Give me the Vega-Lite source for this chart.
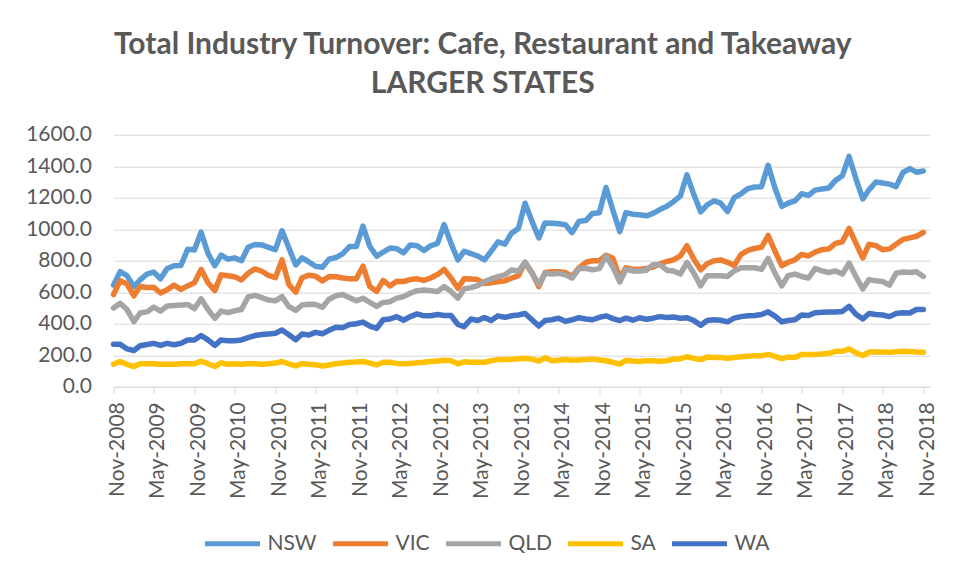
{
"$schema": "https://vega.github.io/schema/vega-lite/v6.json",
"autosize": {"type": "none"},
"width": 816.5,
"height": 252,
"padding": {"left": 113.5, "top": 134.7, "right": 29, "bottom": 188.3},
"background": "white",
"config": {"view": {"stroke": null}, "font": "Lato"},
"title": {"text": ["Total Industry Turnover: Cafe, Restaurant and Takeaway", "LARGER STATES"], "font": "Lato", "fontSize": 30, "fontWeight": "bold", "color": "#595959", "lineHeight": 39, "anchor": "middle", "offset": 25, "dx": -39},
"data": {"values": [
{"month":"2008-11","state":"NSW","value":645},{"month":"2008-12","state":"NSW","value":730},
{"month":"2009-01","state":"NSW","value":705},{"month":"2009-02","state":"NSW","value":635},{"month":"2009-03","state":"NSW","value":678},{"month":"2009-04","state":"NSW","value":715},{"month":"2009-05","state":"NSW","value":728},{"month":"2009-06","state":"NSW","value":685},{"month":"2009-07","state":"NSW","value":750},{"month":"2009-08","state":"NSW","value":768},{"month":"2009-09","state":"NSW","value":770},{"month":"2009-10","state":"NSW","value":872},{"month":"2009-11","state":"NSW","value":868},{"month":"2009-12","state":"NSW","value":982},
{"month":"2010-01","state":"NSW","value":847},{"month":"2010-02","state":"NSW","value":768},{"month":"2010-03","state":"NSW","value":836},{"month":"2010-04","state":"NSW","value":810},{"month":"2010-05","state":"NSW","value":818},{"month":"2010-06","state":"NSW","value":800},{"month":"2010-07","state":"NSW","value":885},{"month":"2010-08","state":"NSW","value":903},{"month":"2010-09","state":"NSW","value":900},{"month":"2010-10","state":"NSW","value":885},{"month":"2010-11","state":"NSW","value":870},{"month":"2010-12","state":"NSW","value":990},
{"month":"2011-01","state":"NSW","value":880},{"month":"2011-02","state":"NSW","value":773},{"month":"2011-03","state":"NSW","value":818},{"month":"2011-04","state":"NSW","value":792},{"month":"2011-05","state":"NSW","value":765},{"month":"2011-06","state":"NSW","value":758},{"month":"2011-07","state":"NSW","value":810},{"month":"2011-08","state":"NSW","value":820},{"month":"2011-09","state":"NSW","value":845},{"month":"2011-10","state":"NSW","value":890},{"month":"2011-11","state":"NSW","value":890},{"month":"2011-12","state":"NSW","value":1020},
{"month":"2012-01","state":"NSW","value":890},{"month":"2012-02","state":"NSW","value":828},{"month":"2012-03","state":"NSW","value":855},{"month":"2012-04","state":"NSW","value":880},{"month":"2012-05","state":"NSW","value":876},{"month":"2012-06","state":"NSW","value":850},{"month":"2012-07","state":"NSW","value":900},{"month":"2012-08","state":"NSW","value":895},{"month":"2012-09","state":"NSW","value":865},{"month":"2012-10","state":"NSW","value":895},{"month":"2012-11","state":"NSW","value":910},{"month":"2012-12","state":"NSW","value":1030},
{"month":"2013-01","state":"NSW","value":910},{"month":"2013-02","state":"NSW","value":805},{"month":"2013-03","state":"NSW","value":860},{"month":"2013-04","state":"NSW","value":845},{"month":"2013-05","state":"NSW","value":830},{"month":"2013-06","state":"NSW","value":805},{"month":"2013-07","state":"NSW","value":860},{"month":"2013-08","state":"NSW","value":920},{"month":"2013-09","state":"NSW","value":905},{"month":"2013-10","state":"NSW","value":975},{"month":"2013-11","state":"NSW","value":1005},{"month":"2013-12","state":"NSW","value":1165},
{"month":"2014-01","state":"NSW","value":1050},{"month":"2014-02","state":"NSW","value":945},{"month":"2014-03","state":"NSW","value":1040},{"month":"2014-04","state":"NSW","value":1038},{"month":"2014-05","state":"NSW","value":1035},{"month":"2014-06","state":"NSW","value":1028},{"month":"2014-07","state":"NSW","value":978},{"month":"2014-08","state":"NSW","value":1050},{"month":"2014-09","state":"NSW","value":1055},{"month":"2014-10","state":"NSW","value":1100},{"month":"2014-11","state":"NSW","value":1105},{"month":"2014-12","state":"NSW","value":1265},
{"month":"2015-01","state":"NSW","value":1120},{"month":"2015-02","state":"NSW","value":985},{"month":"2015-03","state":"NSW","value":1105},{"month":"2015-04","state":"NSW","value":1095},{"month":"2015-05","state":"NSW","value":1092},{"month":"2015-06","state":"NSW","value":1085},{"month":"2015-07","state":"NSW","value":1100},{"month":"2015-08","state":"NSW","value":1125},{"month":"2015-09","state":"NSW","value":1145},{"month":"2015-10","state":"NSW","value":1175},{"month":"2015-11","state":"NSW","value":1210},{"month":"2015-12","state":"NSW","value":1345},
{"month":"2016-01","state":"NSW","value":1220},{"month":"2016-02","state":"NSW","value":1110},{"month":"2016-03","state":"NSW","value":1155},{"month":"2016-04","state":"NSW","value":1180},{"month":"2016-05","state":"NSW","value":1165},{"month":"2016-06","state":"NSW","value":1112},{"month":"2016-07","state":"NSW","value":1200},{"month":"2016-08","state":"NSW","value":1225},{"month":"2016-09","state":"NSW","value":1258},{"month":"2016-10","state":"NSW","value":1268},{"month":"2016-11","state":"NSW","value":1270},{"month":"2016-12","state":"NSW","value":1405},
{"month":"2017-01","state":"NSW","value":1260},{"month":"2017-02","state":"NSW","value":1145},{"month":"2017-03","state":"NSW","value":1165},{"month":"2017-04","state":"NSW","value":1180},{"month":"2017-05","state":"NSW","value":1225},{"month":"2017-06","state":"NSW","value":1215},{"month":"2017-07","state":"NSW","value":1248},{"month":"2017-08","state":"NSW","value":1255},{"month":"2017-09","state":"NSW","value":1262},{"month":"2017-10","state":"NSW","value":1310},{"month":"2017-11","state":"NSW","value":1340},{"month":"2017-12","state":"NSW","value":1462},
{"month":"2018-01","state":"NSW","value":1320},{"month":"2018-02","state":"NSW","value":1192},{"month":"2018-03","state":"NSW","value":1250},{"month":"2018-04","state":"NSW","value":1300},{"month":"2018-05","state":"NSW","value":1293},{"month":"2018-06","state":"NSW","value":1286},{"month":"2018-07","state":"NSW","value":1270},{"month":"2018-08","state":"NSW","value":1360},{"month":"2018-09","state":"NSW","value":1385},{"month":"2018-10","state":"NSW","value":1362},{"month":"2018-11","state":"NSW","value":1370},
{"month":"2008-11","state":"VIC","value":585},{"month":"2008-12","state":"VIC","value":672},
{"month":"2009-01","state":"VIC","value":652},{"month":"2009-02","state":"VIC","value":577},{"month":"2009-03","state":"VIC","value":636},{"month":"2009-04","state":"VIC","value":630},{"month":"2009-05","state":"VIC","value":632},{"month":"2009-06","state":"VIC","value":595},{"month":"2009-07","state":"VIC","value":615},{"month":"2009-08","state":"VIC","value":645},{"month":"2009-09","state":"VIC","value":618},{"month":"2009-10","state":"VIC","value":640},{"month":"2009-11","state":"VIC","value":660},{"month":"2009-12","state":"VIC","value":745},
{"month":"2010-01","state":"VIC","value":660},{"month":"2010-02","state":"VIC","value":610},{"month":"2010-03","state":"VIC","value":710},{"month":"2010-04","state":"VIC","value":704},{"month":"2010-05","state":"VIC","value":698},{"month":"2010-06","state":"VIC","value":678},{"month":"2010-07","state":"VIC","value":720},{"month":"2010-08","state":"VIC","value":748},{"month":"2010-09","state":"VIC","value":733},{"month":"2010-10","state":"VIC","value":707},{"month":"2010-11","state":"VIC","value":692},{"month":"2010-12","state":"VIC","value":805},
{"month":"2011-01","state":"VIC","value":648},{"month":"2011-02","state":"VIC","value":600},{"month":"2011-03","state":"VIC","value":692},{"month":"2011-04","state":"VIC","value":708},{"month":"2011-05","state":"VIC","value":702},{"month":"2011-06","state":"VIC","value":672},{"month":"2011-07","state":"VIC","value":699},{"month":"2011-08","state":"VIC","value":698},{"month":"2011-09","state":"VIC","value":690},{"month":"2011-10","state":"VIC","value":686},{"month":"2011-11","state":"VIC","value":685},{"month":"2011-12","state":"VIC","value":765},
{"month":"2012-01","state":"VIC","value":636},{"month":"2012-02","state":"VIC","value":605},{"month":"2012-03","state":"VIC","value":675},{"month":"2012-04","state":"VIC","value":640},{"month":"2012-05","state":"VIC","value":670},{"month":"2012-06","state":"VIC","value":668},{"month":"2012-07","state":"VIC","value":680},{"month":"2012-08","state":"VIC","value":685},{"month":"2012-09","state":"VIC","value":675},{"month":"2012-10","state":"VIC","value":690},{"month":"2012-11","state":"VIC","value":712},{"month":"2012-12","state":"VIC","value":745},
{"month":"2013-01","state":"VIC","value":690},{"month":"2013-02","state":"VIC","value":625},{"month":"2013-03","state":"VIC","value":685},{"month":"2013-04","state":"VIC","value":684},{"month":"2013-05","state":"VIC","value":680},{"month":"2013-06","state":"VIC","value":655},{"month":"2013-07","state":"VIC","value":660},{"month":"2013-08","state":"VIC","value":666},{"month":"2013-09","state":"VIC","value":672},{"month":"2013-10","state":"VIC","value":690},{"month":"2013-11","state":"VIC","value":705},{"month":"2013-12","state":"VIC","value":790},
{"month":"2014-01","state":"VIC","value":725},{"month":"2014-02","state":"VIC","value":635},{"month":"2014-03","state":"VIC","value":725},{"month":"2014-04","state":"VIC","value":730},{"month":"2014-05","state":"VIC","value":730},{"month":"2014-06","state":"VIC","value":725},{"month":"2014-07","state":"VIC","value":700},{"month":"2014-08","state":"VIC","value":755},{"month":"2014-09","state":"VIC","value":790},{"month":"2014-10","state":"VIC","value":800},{"month":"2014-11","state":"VIC","value":800},{"month":"2014-12","state":"VIC","value":835},
{"month":"2015-01","state":"VIC","value":815},{"month":"2015-02","state":"VIC","value":690},{"month":"2015-03","state":"VIC","value":755},{"month":"2015-04","state":"VIC","value":745},{"month":"2015-05","state":"VIC","value":745},{"month":"2015-06","state":"VIC","value":750},{"month":"2015-07","state":"VIC","value":760},{"month":"2015-08","state":"VIC","value":780},{"month":"2015-09","state":"VIC","value":795},{"month":"2015-10","state":"VIC","value":805},{"month":"2015-11","state":"VIC","value":830},{"month":"2015-12","state":"VIC","value":895},
{"month":"2016-01","state":"VIC","value":810},{"month":"2016-02","state":"VIC","value":742},{"month":"2016-03","state":"VIC","value":780},{"month":"2016-04","state":"VIC","value":800},{"month":"2016-05","state":"VIC","value":805},{"month":"2016-06","state":"VIC","value":790},{"month":"2016-07","state":"VIC","value":770},{"month":"2016-08","state":"VIC","value":840},{"month":"2016-09","state":"VIC","value":865},{"month":"2016-10","state":"VIC","value":878},{"month":"2016-11","state":"VIC","value":885},{"month":"2016-12","state":"VIC","value":960},
{"month":"2017-01","state":"VIC","value":860},{"month":"2017-02","state":"VIC","value":768},{"month":"2017-03","state":"VIC","value":790},{"month":"2017-04","state":"VIC","value":805},{"month":"2017-05","state":"VIC","value":840},{"month":"2017-06","state":"VIC","value":830},{"month":"2017-07","state":"VIC","value":855},{"month":"2017-08","state":"VIC","value":870},{"month":"2017-09","state":"VIC","value":875},{"month":"2017-10","state":"VIC","value":910},{"month":"2017-11","state":"VIC","value":920},{"month":"2017-12","state":"VIC","value":1005},
{"month":"2018-01","state":"VIC","value":910},{"month":"2018-02","state":"VIC","value":818},{"month":"2018-03","state":"VIC","value":905},{"month":"2018-04","state":"VIC","value":895},{"month":"2018-05","state":"VIC","value":870},{"month":"2018-06","state":"VIC","value":875},{"month":"2018-07","state":"VIC","value":905},{"month":"2018-08","state":"VIC","value":935},{"month":"2018-09","state":"VIC","value":945},{"month":"2018-10","state":"VIC","value":955},{"month":"2018-11","state":"VIC","value":980},
{"month":"2008-11","state":"QLD","value":500},{"month":"2008-12","state":"QLD","value":530},
{"month":"2009-01","state":"QLD","value":490},{"month":"2009-02","state":"QLD","value":413},{"month":"2009-03","state":"QLD","value":468},{"month":"2009-04","state":"QLD","value":475},{"month":"2009-05","state":"QLD","value":505},{"month":"2009-06","state":"QLD","value":480},{"month":"2009-07","state":"QLD","value":512},{"month":"2009-08","state":"QLD","value":515},{"month":"2009-09","state":"QLD","value":518},{"month":"2009-10","state":"QLD","value":522},{"month":"2009-11","state":"QLD","value":496},{"month":"2009-12","state":"QLD","value":558},
{"month":"2010-01","state":"QLD","value":490},{"month":"2010-02","state":"QLD","value":434},{"month":"2010-03","state":"QLD","value":480},{"month":"2010-04","state":"QLD","value":470},{"month":"2010-05","state":"QLD","value":482},{"month":"2010-06","state":"QLD","value":490},{"month":"2010-07","state":"QLD","value":570},{"month":"2010-08","state":"QLD","value":580},{"month":"2010-09","state":"QLD","value":565},{"month":"2010-10","state":"QLD","value":550},{"month":"2010-11","state":"QLD","value":545},{"month":"2010-12","state":"QLD","value":572},
{"month":"2011-01","state":"QLD","value":508},{"month":"2011-02","state":"QLD","value":485},{"month":"2011-03","state":"QLD","value":519},{"month":"2011-04","state":"QLD","value":523},{"month":"2011-05","state":"QLD","value":522},{"month":"2011-06","state":"QLD","value":505},{"month":"2011-07","state":"QLD","value":555},{"month":"2011-08","state":"QLD","value":578},{"month":"2011-09","state":"QLD","value":585},{"month":"2011-10","state":"QLD","value":565},{"month":"2011-11","state":"QLD","value":545},{"month":"2011-12","state":"QLD","value":562},
{"month":"2012-01","state":"QLD","value":536},{"month":"2012-02","state":"QLD","value":510},{"month":"2012-03","state":"QLD","value":535},{"month":"2012-04","state":"QLD","value":540},{"month":"2012-05","state":"QLD","value":562},{"month":"2012-06","state":"QLD","value":572},{"month":"2012-07","state":"QLD","value":593},{"month":"2012-08","state":"QLD","value":610},{"month":"2012-09","state":"QLD","value":614},{"month":"2012-10","state":"QLD","value":610},{"month":"2012-11","state":"QLD","value":604},{"month":"2012-12","state":"QLD","value":636},
{"month":"2013-01","state":"QLD","value":604},{"month":"2013-02","state":"QLD","value":562},{"month":"2013-03","state":"QLD","value":621},{"month":"2013-04","state":"QLD","value":629},{"month":"2013-05","state":"QLD","value":642},{"month":"2013-06","state":"QLD","value":667},{"month":"2013-07","state":"QLD","value":684},{"month":"2013-08","state":"QLD","value":699},{"month":"2013-09","state":"QLD","value":710},{"month":"2013-10","state":"QLD","value":742},{"month":"2013-11","state":"QLD","value":733},{"month":"2013-12","state":"QLD","value":790},
{"month":"2014-01","state":"QLD","value":720},{"month":"2014-02","state":"QLD","value":650},{"month":"2014-03","state":"QLD","value":720},{"month":"2014-04","state":"QLD","value":715},{"month":"2014-05","state":"QLD","value":720},{"month":"2014-06","state":"QLD","value":710},{"month":"2014-07","state":"QLD","value":690},{"month":"2014-08","state":"QLD","value":750},{"month":"2014-09","state":"QLD","value":752},{"month":"2014-10","state":"QLD","value":742},{"month":"2014-11","state":"QLD","value":750},{"month":"2014-12","state":"QLD","value":830},
{"month":"2015-01","state":"QLD","value":760},{"month":"2015-02","state":"QLD","value":665},{"month":"2015-03","state":"QLD","value":745},{"month":"2015-04","state":"QLD","value":735},{"month":"2015-05","state":"QLD","value":735},{"month":"2015-06","state":"QLD","value":740},{"month":"2015-07","state":"QLD","value":775},{"month":"2015-08","state":"QLD","value":775},{"month":"2015-09","state":"QLD","value":740},{"month":"2015-10","state":"QLD","value":735},{"month":"2015-11","state":"QLD","value":715},{"month":"2015-12","state":"QLD","value":790},
{"month":"2016-01","state":"QLD","value":720},{"month":"2016-02","state":"QLD","value":640},{"month":"2016-03","state":"QLD","value":705},{"month":"2016-04","state":"QLD","value":705},{"month":"2016-05","state":"QLD","value":705},{"month":"2016-06","state":"QLD","value":700},{"month":"2016-07","state":"QLD","value":735},{"month":"2016-08","state":"QLD","value":755},{"month":"2016-09","state":"QLD","value":755},{"month":"2016-10","state":"QLD","value":755},{"month":"2016-11","state":"QLD","value":745},{"month":"2016-12","state":"QLD","value":815},
{"month":"2017-01","state":"QLD","value":720},{"month":"2017-02","state":"QLD","value":640},{"month":"2017-03","state":"QLD","value":705},{"month":"2017-04","state":"QLD","value":715},{"month":"2017-05","state":"QLD","value":700},{"month":"2017-06","state":"QLD","value":690},{"month":"2017-07","state":"QLD","value":750},{"month":"2017-08","state":"QLD","value":735},{"month":"2017-09","state":"QLD","value":725},{"month":"2017-10","state":"QLD","value":735},{"month":"2017-11","state":"QLD","value":715},{"month":"2017-12","state":"QLD","value":785},
{"month":"2018-01","state":"QLD","value":700},{"month":"2018-02","state":"QLD","value":620},{"month":"2018-03","state":"QLD","value":680},{"month":"2018-04","state":"QLD","value":672},{"month":"2018-05","state":"QLD","value":668},{"month":"2018-06","state":"QLD","value":645},{"month":"2018-07","state":"QLD","value":720},{"month":"2018-08","state":"QLD","value":728},{"month":"2018-09","state":"QLD","value":725},{"month":"2018-10","state":"QLD","value":730},{"month":"2018-11","state":"QLD","value":700},
{"month":"2008-11","state":"SA","value":142},{"month":"2008-12","state":"SA","value":160},
{"month":"2009-01","state":"SA","value":142},{"month":"2009-02","state":"SA","value":128},{"month":"2009-03","state":"SA","value":146},{"month":"2009-04","state":"SA","value":146},{"month":"2009-05","state":"SA","value":145},{"month":"2009-06","state":"SA","value":142},{"month":"2009-07","state":"SA","value":142},{"month":"2009-08","state":"SA","value":142},{"month":"2009-09","state":"SA","value":145},{"month":"2009-10","state":"SA","value":146},{"month":"2009-11","state":"SA","value":146},{"month":"2009-12","state":"SA","value":162},
{"month":"2010-01","state":"SA","value":146},{"month":"2010-02","state":"SA","value":128},{"month":"2010-03","state":"SA","value":152},{"month":"2010-04","state":"SA","value":142},{"month":"2010-05","state":"SA","value":145},{"month":"2010-06","state":"SA","value":142},{"month":"2010-07","state":"SA","value":145},{"month":"2010-08","state":"SA","value":146},{"month":"2010-09","state":"SA","value":143},{"month":"2010-10","state":"SA","value":146},{"month":"2010-11","state":"SA","value":150},{"month":"2010-12","state":"SA","value":160},
{"month":"2011-01","state":"SA","value":145},{"month":"2011-02","state":"SA","value":132},{"month":"2011-03","state":"SA","value":146},{"month":"2011-04","state":"SA","value":142},{"month":"2011-05","state":"SA","value":140},{"month":"2011-06","state":"SA","value":131},{"month":"2011-07","state":"SA","value":138},{"month":"2011-08","state":"SA","value":146},{"month":"2011-09","state":"SA","value":150},{"month":"2011-10","state":"SA","value":155},{"month":"2011-11","state":"SA","value":157},{"month":"2011-12","state":"SA","value":160},
{"month":"2012-01","state":"SA","value":150},{"month":"2012-02","state":"SA","value":138},{"month":"2012-03","state":"SA","value":155},{"month":"2012-04","state":"SA","value":155},{"month":"2012-05","state":"SA","value":148},{"month":"2012-06","state":"SA","value":145},{"month":"2012-07","state":"SA","value":148},{"month":"2012-08","state":"SA","value":152},{"month":"2012-09","state":"SA","value":155},{"month":"2012-10","state":"SA","value":160},{"month":"2012-11","state":"SA","value":163},{"month":"2012-12","state":"SA","value":168},
{"month":"2013-01","state":"SA","value":165},{"month":"2013-02","state":"SA","value":145},{"month":"2013-03","state":"SA","value":158},{"month":"2013-04","state":"SA","value":155},{"month":"2013-05","state":"SA","value":155},{"month":"2013-06","state":"SA","value":155},{"month":"2013-07","state":"SA","value":165},{"month":"2013-08","state":"SA","value":172},{"month":"2013-09","state":"SA","value":172},{"month":"2013-10","state":"SA","value":175},{"month":"2013-11","state":"SA","value":178},{"month":"2013-12","state":"SA","value":180},
{"month":"2014-01","state":"SA","value":175},{"month":"2014-02","state":"SA","value":163},{"month":"2014-03","state":"SA","value":183},{"month":"2014-04","state":"SA","value":165},{"month":"2014-05","state":"SA","value":168},{"month":"2014-06","state":"SA","value":172},{"month":"2014-07","state":"SA","value":168},{"month":"2014-08","state":"SA","value":170},{"month":"2014-09","state":"SA","value":172},{"month":"2014-10","state":"SA","value":175},{"month":"2014-11","state":"SA","value":170},{"month":"2014-12","state":"SA","value":165},
{"month":"2015-01","state":"SA","value":155},{"month":"2015-02","state":"SA","value":143},{"month":"2015-03","state":"SA","value":168},{"month":"2015-04","state":"SA","value":163},{"month":"2015-05","state":"SA","value":160},{"month":"2015-06","state":"SA","value":165},{"month":"2015-07","state":"SA","value":165},{"month":"2015-08","state":"SA","value":162},{"month":"2015-09","state":"SA","value":165},{"month":"2015-10","state":"SA","value":175},{"month":"2015-11","state":"SA","value":178},{"month":"2015-12","state":"SA","value":190},
{"month":"2016-01","state":"SA","value":180},{"month":"2016-02","state":"SA","value":172},{"month":"2016-03","state":"SA","value":188},{"month":"2016-04","state":"SA","value":185},{"month":"2016-05","state":"SA","value":186},{"month":"2016-06","state":"SA","value":180},{"month":"2016-07","state":"SA","value":185},{"month":"2016-08","state":"SA","value":190},{"month":"2016-09","state":"SA","value":194},{"month":"2016-10","state":"SA","value":196},{"month":"2016-11","state":"SA","value":196},{"month":"2016-12","state":"SA","value":205},
{"month":"2017-01","state":"SA","value":192},{"month":"2017-02","state":"SA","value":178},{"month":"2017-03","state":"SA","value":188},{"month":"2017-04","state":"SA","value":185},{"month":"2017-05","state":"SA","value":205},{"month":"2017-06","state":"SA","value":205},{"month":"2017-07","state":"SA","value":205},{"month":"2017-08","state":"SA","value":208},{"month":"2017-09","state":"SA","value":212},{"month":"2017-10","state":"SA","value":225},{"month":"2017-11","state":"SA","value":225},{"month":"2017-12","state":"SA","value":240},
{"month":"2018-01","state":"SA","value":215},{"month":"2018-02","state":"SA","value":198},{"month":"2018-03","state":"SA","value":220},{"month":"2018-04","state":"SA","value":220},{"month":"2018-05","state":"SA","value":220},{"month":"2018-06","state":"SA","value":218},{"month":"2018-07","state":"SA","value":222},{"month":"2018-08","state":"SA","value":225},{"month":"2018-09","state":"SA","value":224},{"month":"2018-10","state":"SA","value":220},{"month":"2018-11","state":"SA","value":218},
{"month":"2008-11","state":"WA","value":270},{"month":"2008-12","state":"WA","value":270},
{"month":"2009-01","state":"WA","value":240},{"month":"2009-02","state":"WA","value":230},{"month":"2009-03","state":"WA","value":260},{"month":"2009-04","state":"WA","value":268},{"month":"2009-05","state":"WA","value":275},{"month":"2009-06","state":"WA","value":262},{"month":"2009-07","state":"WA","value":275},{"month":"2009-08","state":"WA","value":266},{"month":"2009-09","state":"WA","value":275},{"month":"2009-10","state":"WA","value":296},{"month":"2009-11","state":"WA","value":297},{"month":"2009-12","state":"WA","value":325},
{"month":"2010-01","state":"WA","value":297},{"month":"2010-02","state":"WA","value":262},{"month":"2010-03","state":"WA","value":297},{"month":"2010-04","state":"WA","value":292},{"month":"2010-05","state":"WA","value":292},{"month":"2010-06","state":"WA","value":297},{"month":"2010-07","state":"WA","value":312},{"month":"2010-08","state":"WA","value":325},{"month":"2010-09","state":"WA","value":331},{"month":"2010-10","state":"WA","value":335},{"month":"2010-11","state":"WA","value":340},{"month":"2010-12","state":"WA","value":360},
{"month":"2011-01","state":"WA","value":330},{"month":"2011-02","state":"WA","value":298},{"month":"2011-03","state":"WA","value":335},{"month":"2011-04","state":"WA","value":328},{"month":"2011-05","state":"WA","value":345},{"month":"2011-06","state":"WA","value":336},{"month":"2011-07","state":"WA","value":358},{"month":"2011-08","state":"WA","value":378},{"month":"2011-09","state":"WA","value":375},{"month":"2011-10","state":"WA","value":395},{"month":"2011-11","state":"WA","value":400},{"month":"2011-12","state":"WA","value":410},
{"month":"2012-01","state":"WA","value":385},{"month":"2012-02","state":"WA","value":370},{"month":"2012-03","state":"WA","value":425},{"month":"2012-04","state":"WA","value":430},{"month":"2012-05","state":"WA","value":445},{"month":"2012-06","state":"WA","value":422},{"month":"2012-07","state":"WA","value":445},{"month":"2012-08","state":"WA","value":462},{"month":"2012-09","state":"WA","value":450},{"month":"2012-10","state":"WA","value":450},{"month":"2012-11","state":"WA","value":458},{"month":"2012-12","state":"WA","value":452},
{"month":"2013-01","state":"WA","value":452},{"month":"2013-02","state":"WA","value":395},{"month":"2013-03","state":"WA","value":381},{"month":"2013-04","state":"WA","value":430},{"month":"2013-05","state":"WA","value":420},{"month":"2013-06","state":"WA","value":440},{"month":"2013-07","state":"WA","value":420},{"month":"2013-08","state":"WA","value":450},{"month":"2013-09","state":"WA","value":440},{"month":"2013-10","state":"WA","value":450},{"month":"2013-11","state":"WA","value":455},{"month":"2013-12","state":"WA","value":465},
{"month":"2014-01","state":"WA","value":425},{"month":"2014-02","state":"WA","value":385},{"month":"2014-03","state":"WA","value":420},{"month":"2014-04","state":"WA","value":425},{"month":"2014-05","state":"WA","value":435},{"month":"2014-06","state":"WA","value":415},{"month":"2014-07","state":"WA","value":425},{"month":"2014-08","state":"WA","value":438},{"month":"2014-09","state":"WA","value":430},{"month":"2014-10","state":"WA","value":425},{"month":"2014-11","state":"WA","value":440},{"month":"2014-12","state":"WA","value":450},
{"month":"2015-01","state":"WA","value":432},{"month":"2015-02","state":"WA","value":420},{"month":"2015-03","state":"WA","value":435},{"month":"2015-04","state":"WA","value":422},{"month":"2015-05","state":"WA","value":438},{"month":"2015-06","state":"WA","value":428},{"month":"2015-07","state":"WA","value":435},{"month":"2015-08","state":"WA","value":445},{"month":"2015-09","state":"WA","value":440},{"month":"2015-10","state":"WA","value":442},{"month":"2015-11","state":"WA","value":435},{"month":"2015-12","state":"WA","value":438},
{"month":"2016-01","state":"WA","value":420},{"month":"2016-02","state":"WA","value":390},{"month":"2016-03","state":"WA","value":420},{"month":"2016-04","state":"WA","value":425},{"month":"2016-05","state":"WA","value":422},{"month":"2016-06","state":"WA","value":412},{"month":"2016-07","state":"WA","value":435},{"month":"2016-08","state":"WA","value":445},{"month":"2016-09","state":"WA","value":450},{"month":"2016-10","state":"WA","value":452},{"month":"2016-11","state":"WA","value":458},{"month":"2016-12","state":"WA","value":475},
{"month":"2017-01","state":"WA","value":448},{"month":"2017-02","state":"WA","value":412},{"month":"2017-03","state":"WA","value":420},{"month":"2017-04","state":"WA","value":425},{"month":"2017-05","state":"WA","value":455},{"month":"2017-06","state":"WA","value":452},{"month":"2017-07","state":"WA","value":470},{"month":"2017-08","state":"WA","value":472},{"month":"2017-09","state":"WA","value":475},{"month":"2017-10","state":"WA","value":475},{"month":"2017-11","state":"WA","value":478},{"month":"2017-12","state":"WA","value":510},
{"month":"2018-01","state":"WA","value":460},{"month":"2018-02","state":"WA","value":430},{"month":"2018-03","state":"WA","value":465},{"month":"2018-04","state":"WA","value":458},{"month":"2018-05","state":"WA","value":455},{"month":"2018-06","state":"WA","value":445},{"month":"2018-07","state":"WA","value":465},{"month":"2018-08","state":"WA","value":470},{"month":"2018-09","state":"WA","value":468},{"month":"2018-10","state":"WA","value":490},{"month":"2018-11","state":"WA","value":490}
]},
"mark": {"type": "line", "strokeWidth": 5.5, "strokeJoin": "round", "strokeCap": "round"},
"encoding": {
  "x": {"field": "month", "type": "temporal",
    "scale": {"type": "utc", "domain": [{"year": 2008, "month": 11, "date": 1, "utc": true}, {"year": 2018, "month": 12, "date": 1, "utc": true}]},
    "axis": {"title": null, "format": "%b-%Y", "grid": false,
      "values": [{"year":2008,"month":11,"date":1,"utc":true},{"year":2009,"month":5,"date":1,"utc":true},{"year":2009,"month":11,"date":1,"utc":true},{"year":2010,"month":5,"date":1,"utc":true},{"year":2010,"month":11,"date":1,"utc":true},{"year":2011,"month":5,"date":1,"utc":true},{"year":2011,"month":11,"date":1,"utc":true},{"year":2012,"month":5,"date":1,"utc":true},{"year":2012,"month":11,"date":1,"utc":true},{"year":2013,"month":5,"date":1,"utc":true},{"year":2013,"month":11,"date":1,"utc":true},{"year":2014,"month":5,"date":1,"utc":true},{"year":2014,"month":11,"date":1,"utc":true},{"year":2015,"month":5,"date":1,"utc":true},{"year":2015,"month":11,"date":1,"utc":true},{"year":2016,"month":5,"date":1,"utc":true},{"year":2016,"month":11,"date":1,"utc":true},{"year":2017,"month":5,"date":1,"utc":true},{"year":2017,"month":11,"date":1,"utc":true},{"year":2018,"month":5,"date":1,"utc":true},{"year":2018,"month":11,"date":1,"utc":true}],
      "labelAngle": -90, "labelFontSize": 21, "labelFont": "Lato", "labelColor": "#595959", "labelPadding": 8, "labelOffset": 4, "labelOverlap": false, "labelFlush": false, "labelBound": false,
      "domainColor": "#D9D9D9", "domainWidth": 1, "tickColor": "#D9D9D9", "tickSize": 7}},
  "y": {"field": "value", "type": "quantitative",
    "scale": {"domain": [0, 1600], "nice": false},
    "axis": {"title": null, "format": ".1f", "values": [0, 200, 400, 600, 800, 1000, 1200, 1400, 1600], "grid": true, "gridColor": "#D9D9D9", "gridWidth": 1, "domain": false, "ticks": false, "labelPadding": 22, "labelFontSize": 21, "labelFont": "Lato", "labelColor": "#595959"}},
  "color": {"field": "state", "type": "nominal",
    "scale": {"domain": ["NSW", "VIC", "QLD", "SA", "WA"], "range": ["#5B9BD5", "#ED7D31", "#A5A5A5", "#FFC000", "#4472C4"]},
    "legend": {"orient": "none", "legendX": 89, "legendY": 379, "direction": "horizontal", "title": null, "symbolType": "stroke", "symbolSize": 3025, "symbolStrokeWidth": 5, "labelFontSize": 21, "labelFont": "Lato", "labelColor": "#595959", "labelOffset": 5, "columnPadding": 5}}
}
}
